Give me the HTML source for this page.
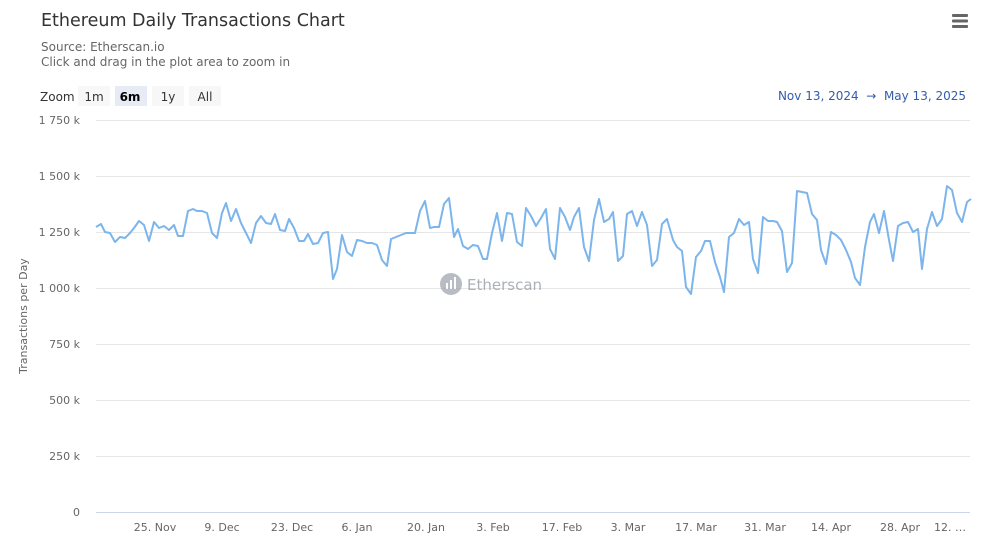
<!DOCTYPE html>
<html><head><meta charset="utf-8"><style>
body{margin:0;background:#fff;}
svg{display:block;font-family:"DejaVu Sans","Liberation Sans",sans-serif;}
</style></head><body>
<svg width="984" height="543" viewBox="0 0 984 543">
<rect width="984" height="543" fill="#fff"/>
<text x="41" y="26" font-size="17.5" fill="#333">Ethereum Daily Transactions Chart</text>
<text x="41" y="51" font-size="12" fill="#666">Source: Etherscan.io</text>
<text x="41" y="66" font-size="12" fill="#666">Click and drag in the plot area to zoom in</text>
<g fill="#666"><rect x="952" y="14" width="16" height="3" rx="1"/><rect x="952" y="19.5" width="16" height="3" rx="1"/><rect x="952" y="25" width="16" height="3" rx="1"/></g>
<text x="40" y="101" font-size="12" fill="#333">Zoom</text>
<rect x="78" y="86" width="32" height="20" fill="#f7f7f7"/>
<rect x="115" y="86" width="32" height="20" fill="#e6ebf5"/>
<rect x="152" y="86" width="32" height="20" fill="#f7f7f7"/>
<rect x="189" y="86" width="32" height="20" fill="#f7f7f7"/>
<text x="94" y="101" font-size="12" fill="#333" text-anchor="middle">1m</text>
<text x="130" y="101" font-size="12" fill="#000" font-weight="bold" text-anchor="middle">6m</text>
<text x="168" y="101" font-size="12" fill="#333" text-anchor="middle">1y</text>
<text x="205" y="101" font-size="12" fill="#333" text-anchor="middle">All</text>
<text x="966" y="100" font-size="12" fill="#335cad" text-anchor="end">Nov 13, 2024 &#160;→&#160; May 13, 2025</text>
<g stroke="#e6e6e6" stroke-width="1">
<line x1="96" x2="970" y1="120.5" y2="120.5"/><line x1="96" x2="970" y1="176.5" y2="176.5"/><line x1="96" x2="970" y1="232.5" y2="232.5"/><line x1="96" x2="970" y1="288.5" y2="288.5"/><line x1="96" x2="970" y1="344.5" y2="344.5"/><line x1="96" x2="970" y1="400.5" y2="400.5"/><line x1="96" x2="970" y1="456.5" y2="456.5"/>
</g>
<line x1="96" x2="970" y1="512.5" y2="512.5" stroke="#ccd6eb"/>
<g font-size="11" fill="#666" text-anchor="end">
<text x="80" y="124">1 750 k</text><text x="80" y="180">1 500 k</text><text x="80" y="236">1 250 k</text><text x="80" y="292">1 000 k</text><text x="80" y="348">750 k</text><text x="80" y="404">500 k</text><text x="80" y="460">250 k</text><text x="80" y="516">0</text>
</g>
<text transform="translate(27,316) rotate(-90)" font-size="11" fill="#666" text-anchor="middle">Transactions per Day</text>
<g font-size="11" fill="#666" text-anchor="middle">
<text x="155" y="531">25. Nov</text><text x="222" y="531">9. Dec</text><text x="292" y="531">23. Dec</text><text x="357" y="531">6. Jan</text><text x="426" y="531">20. Jan</text><text x="493" y="531">3. Feb</text><text x="562" y="531">17. Feb</text><text x="628" y="531">3. Mar</text><text x="696" y="531">17. Mar</text><text x="765" y="531">31. Mar</text><text x="831" y="531">14. Apr</text><text x="900" y="531">28. Apr</text><text x="950" y="531">12. …</text>
</g>
<g opacity="0.7">
<circle cx="451" cy="284" r="11" fill="#9aa0ad"/>
<g fill="#fff"><rect x="446" y="283" width="2" height="6"/><rect x="450" y="280" width="2" height="9"/><rect x="454" y="277" width="2" height="12"/></g>
<text x="467" y="290" font-size="15" fill="#8a8f9c">Etherscan</text>
</g>
<polyline fill="none" stroke="#7cb5ec" stroke-width="2" stroke-linejoin="round" points="96,227 101,224 105,232 110,233 115,242 120,237 125,238 130,233 134,228 139,221 144,225 149,241 154,222 159,228 164,226 169,230 174,225 178,236 183,236 188,211 193,209 197,211 202,211 207,213 212,233 217,238 222,213 226,203 231,221 236,209 241,223 246,233 251,243 256,223 261,216 266,223 271,224 275,214 280,230 285,231 289,219 294,228 299,241 304,241 308,234 313,244 318,243 323,233 328,232 333,279 337,269 342,235 347,252 352,256 357,240 362,241 367,243 372,243 377,245 382,260 387,266 391,239 396,237 401,235 406,233 411,233 415,233 420,211 425,201 430,228 434,227 439,227 444,204 449,198 454,237 458,229 463,246 468,249 473,245 478,246 483,259 487,259 492,233 497,213 502,241 507,213 512,214 517,242 522,246 526,208 531,216 536,226 541,218 546,209 550,249 555,259 560,208 565,217 570,230 574,217 579,208 584,247 589,261 594,220 599,199 604,222 609,219 613,212 618,261 623,256 627,214 632,211 637,226 642,212 647,225 652,266 657,260 662,224 667,219 673,240 677,247 682,251 686,287 691,294 696,257 701,251 705,241 710,241 715,262 720,277 724,292 729,237 734,233 739,219 744,225 749,222 753,259 758,273 763,217 768,221 773,221 777,222 782,231 787,272 792,263 797,191 802,192 807,193 812,214 817,220 821,250 826,264 831,232 836,235 841,240 846,250 851,262 855,278 860,285 865,247 870,222 874,214 879,233 884,211 889,240 893,261 898,226 903,223 908,222 913,232 918,229 922,269 927,229 932,212 937,226 942,219 947,186 952,190 957,213 962,222 967,202 971,199"/>
</svg>
</body></html>
